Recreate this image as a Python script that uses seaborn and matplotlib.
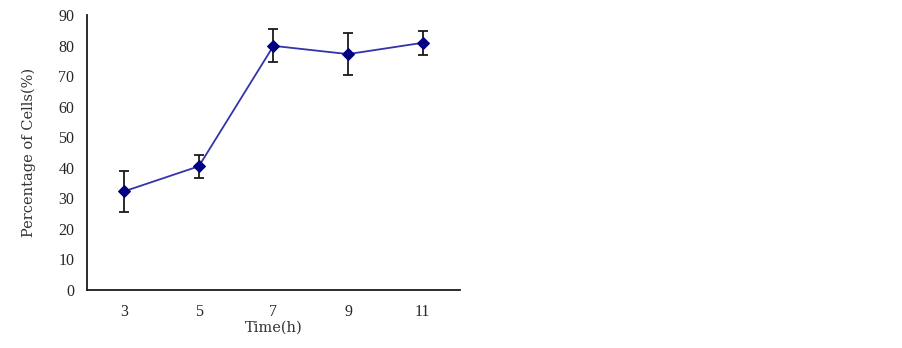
import matplotlib
matplotlib.use("Agg")
import matplotlib.pyplot as plt
import seaborn as sns
import pandas as pd

# data
time_h = [3, 5, 7, 9, 11]
percent = [32.3, 40.5, 79.9, 77.2, 80.9]
err = [6.8, 3.8, 5.4, 6.9, 4.0]

df = pd.DataFrame({"time": time_h, "pct": percent, "err": err})

sns.set_style("white")
plt.rcParams["font.family"] = ["Liberation Serif", "DejaVu Serif"]

fig = plt.figure(figsize=(9.03, 3.48), dpi=100)
ax = fig.add_axes([0.0963, 0.1667, 0.4131, 0.7902])

ax.errorbar(df["time"], df["pct"], yerr=df["err"], fmt="none",
            ecolor="#1a1a1a", elinewidth=1.3, capsize=3.4, capthick=1.3, zorder=2)
sns.lineplot(data=df, x="time", y="pct", ax=ax, color="#3333aa", linewidth=1.3,
             marker="D", markersize=6, markerfacecolor="#000080",
             markeredgecolor="#000080", zorder=3)

ax.set_xlim(2, 12)
ax.set_ylim(0, 90)
ax.set_xticks(time_h)
ax.set_yticks(range(0, 91, 10))
ax.tick_params(axis="x", direction="inout", length=8, width=1.2, labelsize=11.5, pad=6)
ax.tick_params(axis="y", direction="in", length=5, width=1.2, labelsize=11.5, pad=9)

for side in ["top", "right"]:
    ax.spines[side].set_visible(False)
for side in ["left", "bottom"]:
    ax.spines[side].set_color("#1a1a1a")
    ax.spines[side].set_linewidth(1.3)

lab_font = {"family": ["DejaVu Serif"], "size": 10.5, "color": "#333333"}
ax.set_xlabel("Time(h)", fontdict=lab_font, labelpad=0.5)
ax.set_ylabel("Percentage of Cells(%)", fontdict=lab_font, labelpad=16)

fig.savefig("out.png", dpi=100, facecolor="white")
